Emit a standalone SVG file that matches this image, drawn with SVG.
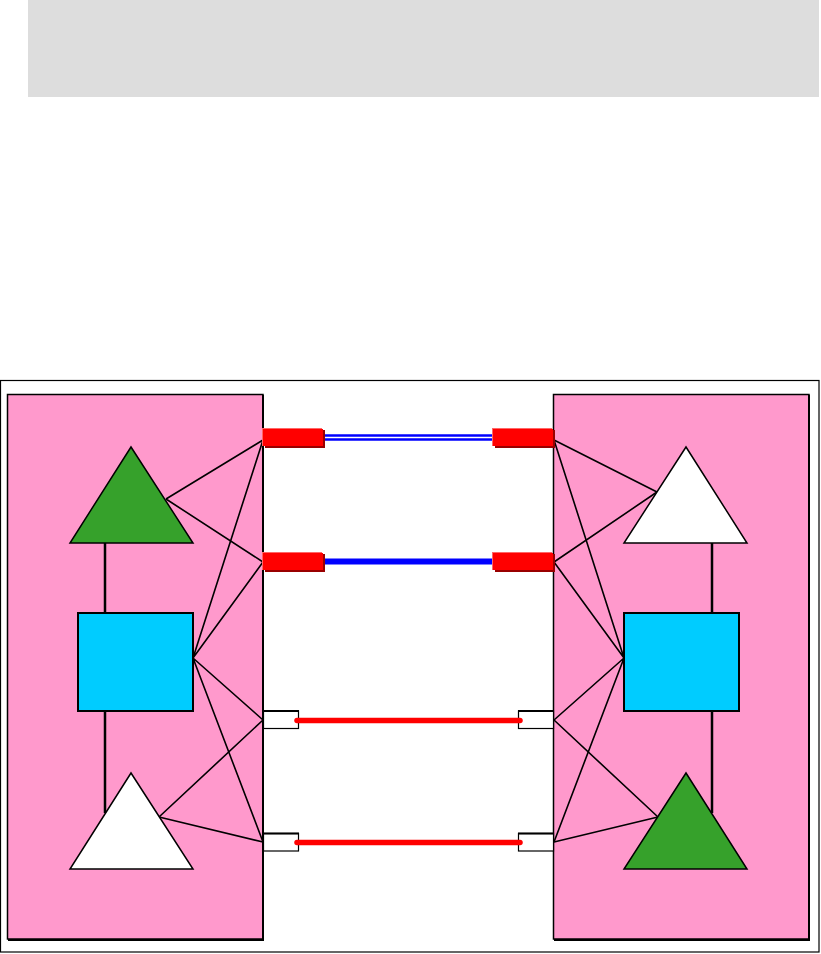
<svg xmlns="http://www.w3.org/2000/svg" width="821" height="954" viewBox="0 0 821 954">
<style>
.panel{fill:#ff99cc;stroke:#000;stroke-width:1.5}
.shadow{fill:none;stroke:#000;stroke-width:2}
.tri-g{fill:#36a12b;stroke:#000;stroke-width:1.5}
.tri-w{fill:#fff;stroke:#000;stroke-width:1.5}
.box{fill:#00ccff;stroke:#000;stroke-width:2}
.ln{stroke:#000;stroke-width:1.6;fill:none}
.vl{stroke:#000;stroke-width:2.5;fill:none}
.red{fill:#ff0000}
.redhi{fill:#ff6666}
.redsh{fill:#990000}
.port{fill:#fff;stroke:#000;stroke-width:1.2}
.rl{stroke:#ff0000;stroke-width:5.5;stroke-linecap:round;fill:none}
</style>
<rect x="28" y="0" width="791" height="97" fill="#dddddd"/>
<rect x="0.5" y="380.5" width="818.5" height="571.5" fill="#fff" stroke="#000" stroke-width="1.2"/>
<g id="left-panel">
<rect class="panel" x="7.5" y="394.5" width="255.5" height="544.5"/>
<path class="shadow" d="M263 395 V940 H8"/>
</g>
<g id="right-panel">
<rect class="panel" x="553.5" y="394.5" width="255.5" height="544.5"/>
<path class="shadow" d="M809 395 V940 H554"/>
</g>
<g id="connectors">
<path class="ln" d="M166 499 L263 440 M166 499 L263 562"/>
<path class="ln" d="M193 658 L263 440 M193 658 L263 562 M193 658 L263 720 M193 658 L263 842"/>
<path class="ln" d="M159 817 L263 720 M159 817 L263 842"/>
<path class="vl" d="M105 543 V613 M105 711 V813"/>
<path class="ln" d="M554 440 L657 492 M554 562 L657 492"/>
<path class="ln" d="M624 658 L554 440 M624 658 L554 562 M624 658 L554 720 M624 658 L554 842"/>
<path class="ln" d="M658 817 L554 720 M658 817 L554 842"/>
<path class="vl" d="M712 543 V613 M712 711 V813"/>
<line x1="324" y1="437.5" x2="493" y2="437.5" stroke="#0000ff" stroke-width="6.5"/>
<line x1="324" y1="437.5" x2="493" y2="437.5" stroke="#fff" stroke-width="1.6"/>
<line x1="324" y1="561.5" x2="493" y2="561.5" stroke="#0000ff" stroke-width="6"/>
</g>
<g id="left-tri-green"><polygon class="tri-g" points="131,447 70,543 193,543"/></g>
<g id="left-box"><rect class="box" x="78" y="613" width="115" height="98"/></g>
<g id="left-tri-white"><polygon class="tri-w" points="131,773 70,869 193,869"/></g>
<g id="right-tri-white"><polygon class="tri-w" points="686,447 624,543 747,543"/></g>
<g id="right-box"><rect class="box" x="624" y="613" width="115" height="98"/></g>
<g id="right-tri-green"><polygon class="tri-g" points="686,773 624,869 747,869"/></g>
<g id="ports">
<g id="port-l1"><rect class="redsh" x="265" y="430" width="60" height="18"/><rect class="redhi" x="262" y="428" width="60" height="18"/><rect class="red" x="263" y="429" width="60" height="17"/></g>
<g id="port-l2"><rect class="redsh" x="265" y="554" width="60" height="18"/><rect class="redhi" x="262" y="552" width="60" height="18"/><rect class="red" x="263" y="553" width="60" height="17"/></g>
<g id="port-r1"><rect class="redsh" x="495" y="430" width="60" height="18"/><rect class="redhi" x="492" y="428" width="60" height="18"/><rect class="red" x="493" y="429" width="60" height="17"/></g>
<g id="port-r2"><rect class="redsh" x="495" y="554" width="60" height="18"/><rect class="redhi" x="492" y="552" width="60" height="18"/><rect class="red" x="493" y="553" width="60" height="17"/></g>
<g id="port-l3"><rect class="port" x="263.5" y="711" width="35" height="17.5"/><line x1="263" y1="711" x2="299" y2="711" stroke="#000" stroke-width="2"/></g>
<g id="port-l4"><rect class="port" x="263.5" y="833.5" width="35" height="17.5"/><line x1="263" y1="833.5" x2="299" y2="833.5" stroke="#000" stroke-width="2"/></g>
<g id="port-r3"><rect class="port" x="518.5" y="711" width="35" height="17.5"/><line x1="518" y1="711" x2="554" y2="711" stroke="#000" stroke-width="2"/></g>
<g id="port-r4"><rect class="port" x="518.5" y="833.5" width="35" height="17.5"/><line x1="518" y1="833.5" x2="554" y2="833.5" stroke="#000" stroke-width="2"/></g>
</g>
<g id="links">
<line class="rl" x1="297" y1="720.5" x2="520" y2="720.5"/>
<line class="rl" x1="297" y1="842.5" x2="520" y2="842.5"/>
</g>
</svg>
